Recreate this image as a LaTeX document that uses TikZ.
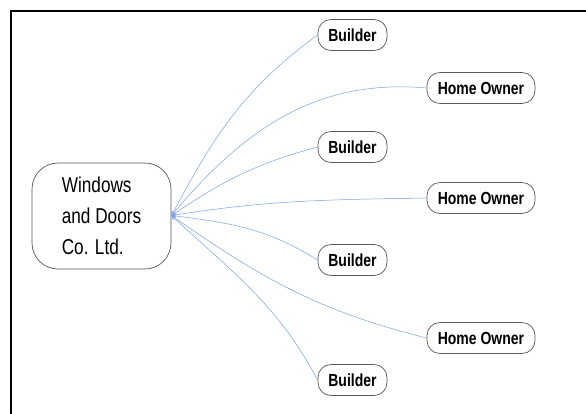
\documentclass[tikz,border=0pt]{standalone}
\usepackage{fontspec}
\setmainfont{Liberation Sans}[FakeStretch=0.8]
\usetikzlibrary{arrows.meta}
\definecolor{edgeblue}{RGB}{125,160,225}
\definecolor{boxgray}{RGB}{90,90,90}
\begin{document}
\begin{tikzpicture}[x=1pt,y=-1pt,
  party/.style={draw=boxgray, line width=0.7pt, rounded corners=13pt, fill=white,
    minimum height=31pt, inner sep=0pt, font=\bfseries\fontsize{17.5}{17.5}\selectfont},
  builderbox/.style={party, minimum width=69pt},
  ownerbox/.style={party, minimum width=108pt},
  mainbox/.style={draw=boxgray, line width=0.7pt, rounded corners=26pt, fill=white,
    minimum width=139pt, minimum height=106pt, inner sep=0pt, align=left,
    font=\fontsize{21.5}{31}\selectfont},
  link/.style={draw=edgeblue, line width=0.5pt, -{To[length=4pt,width=5pt]}}
]
\clip (0,0) rectangle (586,413);
\fill[white] (0,0) rectangle (586,413);
\draw[line width=2pt] (11,440) -- (11,11) -- (620,11);

\node[mainbox] (main) at (101.5,216) {Windows\\and Doors\\Co. Ltd.};
\coordinate (tip) at (171.5,215.5);

\node[builderbox] (b1) at (352.5,35) {Builder};
\node[ownerbox] (h1) at (481,88) {Home Owner};
\node[builderbox] (b2) at (352.5,147) {Builder};
\node[ownerbox] (h2) at (481,198) {Home Owner};
\node[builderbox] (b3) at (352.5,260) {Builder};
\node[ownerbox] (h3) at (481,338) {Home Owner};
\node[builderbox] (b4) at (352.5,380) {Builder};

\draw[link] (b1.west) to[out=216,in=62] (tip);
\draw[link] (h1.west) to[out=175,in=50] (tip);
\draw[link] (b2.west) to[out=195,in=34] (tip);
\draw[link] (h2.west) to[out=181,in=9] (tip);
\draw[link] (b3.west) to[out=148,in=-7] (tip);
\draw[link] (h3.west) to[out=166,in=-35] (tip);
\draw[link] (b4.west) to[out=118,in=-43] (tip);
\end{tikzpicture}
\end{document}
